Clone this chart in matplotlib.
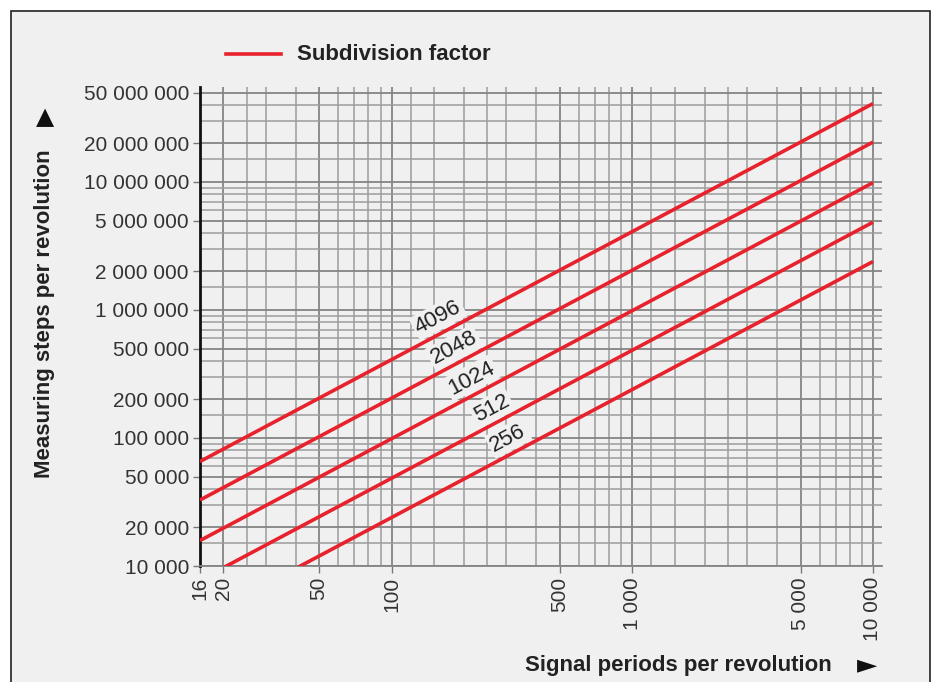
import numpy as np
import matplotlib
matplotlib.use("Agg")
import matplotlib.pyplot as plt
from matplotlib.lines import Line2D
from matplotlib.patches import Rectangle
from matplotlib.ticker import FixedLocator, NullFormatter

plt.rcParams['font.family'] = ['Liberation Sans', 'DejaVu Sans']

# data
factors = [256, 512, 1024, 2048, 4096]
x_start, x_end = 16, 10000
# measuring steps at x=16 and x=10000
steps_at_start = [3830, 7760, 15800, 32768, 65536]
steps_at_end = [2390000, 4850000, 9880000, 20480000, 40960000]
x_ticks = [16, 20, 50, 100, 500, 1000, 5000, 10000]
y_ticks = [10000, 20000, 50000, 100000, 200000, 500000, 1000000,
           2000000, 5000000, 10000000, 20000000, 50000000]
x_minor_steps = [1.2, 1.5, 2, 2.5, 3, 4, 5, 6, 7, 8, 9]
y_minor_steps = [1.5, 3, 4, 6, 7, 8, 9]
# label anchor points (x, y) along each line
label_pos = {4096: (156, 880000), 2048: (182, 505000), 1024: (214, 294000),
             512: (261, 171000), 256: (305, 100000)}

RED = '#e8222c'
BG = '#f0f0f0'
W, H = 933, 682

fig = plt.figure(figsize=(W / 100, H / 100), dpi=100)
fig.patch.set_facecolor('white')
fig.add_artist(Rectangle((11 / W, -0.01), (930 - 11) / W, 1.01 - 11 / H,
                         transform=fig.transFigure, facecolor=BG,
                         edgecolor='#222222', lw=1.2, zorder=-10))

ax = fig.add_axes([200 / W, (H - 566) / H, 682 / W, (566 - 87) / H])
ax.set_facecolor(BG)
ax.set_xscale('log')
ax.set_yscale('log')
ax.set_xlim(16, 10900)
ax.set_ylim(10000, 55200000)

def minor_vals(steps, lo, hi):
    out = []
    for d in range(0, 9):
        for s in steps:
            v = s * 10 ** d
            if lo < v < hi:
                out.append(v)
    return out

x_minor = [v for v in minor_vals(x_minor_steps, 16, 10900) if v not in x_ticks]
y_minor = [v for v in minor_vals(y_minor_steps, 10000, 55200000) if v not in y_ticks]

for v in x_minor:
    ax.axvline(v, color='#9c9c9c', lw=1.1, zorder=1)
for v in x_ticks[1:]:
    ax.axvline(v, color='#848484', lw=1.3, zorder=1)
for v in y_minor:
    ax.axhline(v, color='#9c9c9c', lw=1.1, zorder=1)
for v in y_ticks:
    ax.axhline(v, color='#848484', lw=1.3, zorder=1)

fmt = lambda v: f"{v:,}".replace(",", " ")
ax.xaxis.set_major_locator(FixedLocator(x_ticks))
ax.xaxis.set_minor_locator(FixedLocator([]))
ax.xaxis.set_minor_formatter(NullFormatter())
ax.set_xticklabels([fmt(v) for v in x_ticks], rotation=90)
ax.yaxis.set_major_locator(FixedLocator(y_ticks))
ax.yaxis.set_minor_locator(FixedLocator([]))
ax.yaxis.set_minor_formatter(NullFormatter())
ax.set_yticklabels([fmt(v) for v in y_ticks])
ax.tick_params(axis='both', which='major', direction='out', length=5,
               width=1, color='#777777', labelsize=15, labelcolor='#333333', pad=3)

for s in ['top', 'right']:
    ax.spines[s].set_visible(False)
ax.spines['bottom'].set_color('#848484')
ax.spines['bottom'].set_linewidth(1.3)
ax.spines['left'].set_color('#111111')
ax.spines['left'].set_linewidth(2)

for f, y0, y1 in zip(factors, steps_at_start, steps_at_end):
    ax.plot([x_start, x_end], [y0, y1], color=RED, lw=2.6, zorder=3,
            solid_capstyle='butt')
    lx, ly = label_pos[f]
    ax.text(lx, ly, str(f), rotation=28, rotation_mode='anchor', ha='center',
            va='center', fontsize=16, color='#222222', zorder=4,
            bbox=dict(boxstyle='square,pad=0.1', fc=BG, ec='none'))

# legend
fig.add_artist(Line2D([226 / W, 281 / W], [1 - 54 / H, 1 - 54 / H], color=RED, lw=2.6))
fig.text(297 / W, 1 - 54 / H, 'Subdivision factor', fontsize=16, fontweight='bold',
         color='#222222', ha='left', va='center')

# axis titles
fig.text(832 / W, 1 - 665 / H, 'Signal periods per revolution', fontsize=16,
         fontweight='bold', color='#222222', ha='right', va='center')
fig.text(867 / W, 1 - 665 / H, '►', fontsize=19, color='#111111', ha='center',
         va='center', family=['DejaVu Sans'])
fig.text(45 / W, 1 - 314 / H, 'Measuring steps per revolution', fontsize=16,
         fontweight='bold', color='#222222', rotation=90, ha='center', va='center')
fig.text(45 / W, 1 - 117 / H, '▲', fontsize=17, color='#111111', ha='center',
         va='center', family=['DejaVu Sans'])

fig.savefig('out.png', dpi=100, facecolor=fig.get_facecolor())
